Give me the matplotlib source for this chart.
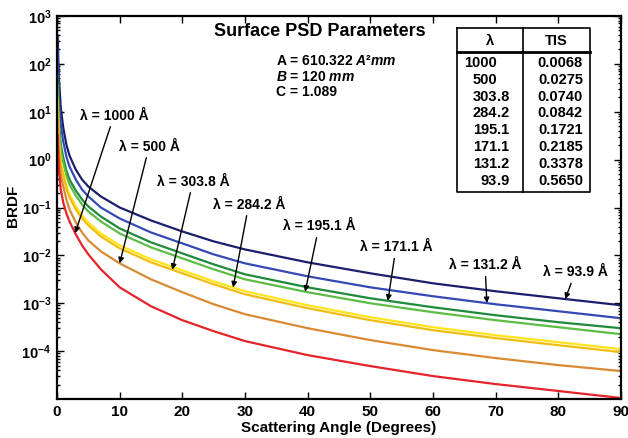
import numpy as np
import matplotlib
matplotlib.use("Agg")
import matplotlib.pyplot as plt
from matplotlib.ticker import LogLocator, NullFormatter, FixedLocator

plt.rcParams['font.family'] = ['Liberation Sans', 'DejaVu Sans']
plt.rcParams['font.weight'] = 'bold'
plt.rcParams['mathtext.fontset'] = 'custom'
plt.rcParams['mathtext.rm'] = 'Liberation Sans:bold'
plt.rcParams['mathtext.it'] = 'Liberation Sans:italic:bold'
plt.rcParams['mathtext.bf'] = 'Liberation Sans:bold'

# ---------------- data ----------------
angle = [0.1, 0.3, 0.6, 1, 1.5, 2, 3, 4, 5, 7, 10, 15, 20, 25, 30, 40, 50, 60, 70, 80, 90]

brdf_93_9 = [402, 51.1, 12.1, 4.64, 2.05, 1.21, 0.619, 0.383, 0.274, 0.170, 0.100,
             0.0536, 0.0316, 0.0196, 0.0133, 0.00715, 0.00422, 0.00261, 0.00178, 0.00127, 0.000909]
brdf_131_2 = [196, 17.8, 5.62, 2.37, 1.155, 0.715, 0.383, 0.237, 0.170, 0.100, 0.0590,
              0.0301, 0.0178, 0.0105, 0.00681, 0.00365, 0.00215, 0.00140, 0.000953, 0.000681, 0.000487]
brdf_171_1 = [59.0, 6.19, 2.05, 1.10, 0.590, 0.383, 0.226, 0.147, 0.105, 0.0649, 0.0365,
              0.0187, 0.0110, 0.00649, 0.00402, 0.00215, 0.00127, 0.000825, 0.000562, 0.000402, 0.000301]
brdf_195_1 = [36.5, 4.22, 1.54, 0.866, 0.464, 0.301, 0.178, 0.1155, 0.0825, 0.0511, 0.0287,
              0.0147, 0.00866, 0.00511, 0.00316, 0.00170, 0.00100, 0.000649, 0.000443, 0.000316, 0.000226]
brdf_284_2 = [17.8, 2.37, 0.909, 0.536, 0.287, 0.187, 0.105, 0.0681, 0.0487, 0.0287, 0.0162,
              0.00825, 0.00487, 0.00287, 0.00178, 0.000909, 0.000511, 0.000316, 0.000215, 0.000154, 0.000110]
brdf_303_8 = [15.4, 2.05, 0.787, 0.464, 0.249, 0.162, 0.0909, 0.0590, 0.0422, 0.0249, 0.0140,
              0.00715, 0.00422, 0.00249, 0.00154, 0.000787, 0.000443, 0.000274, 0.000187, 0.000133, 9.53e-5]
brdf_500 = [7.50, 1.27, 0.487, 0.274, 0.147, 0.0909, 0.0487, 0.0301, 0.0205, 0.0121, 0.00681,
            0.00316, 0.00170, 0.000953, 0.000590, 0.000301, 0.000170, 0.000105, 7.15e-5, 5.11e-5, 3.83e-5]
brdf_1000 = [3.32, 0.619, 0.237, 0.127, 0.075, 0.0511, 0.0274, 0.0162, 0.0105, 0.00511, 0.00215,
             0.000866, 0.000443, 0.000261, 0.000162, 8.25e-5, 4.87e-5, 3.01e-5, 2.05e-5, 1.47e-5, 1.05e-5]

wavelengths = ['93.9', '131.2', '171.1', '195.1', '284.2', '303.8', '500', '1000']
curves = [brdf_93_9, brdf_131_2, brdf_171_1, brdf_195_1, brdf_284_2, brdf_303_8, brdf_500, brdf_1000]
colors = ['#1b1f6b', '#3549b5', '#1f8a3c', '#5cbc45', '#ffe419', '#f2bd12', '#d98a32', '#e5232b']

# table (in the order shown)
table_lambda = ['1000', '500', '303.8', '284.2', '195.1', '171.1', '131.2', '93.9']
table_tis = ['0.0068', '0.0275', '0.0740', '0.0842', '0.1721', '0.2185', '0.3378', '0.5650']

# arrow labels: tip angle on the curve, text position (deg, BRDF)
label_tip = [2.9, 10.0, 18.4, 28.1, 39.6, 52.8, 68.6, 81.1]
label_tx = [9.1, 14.7, 21.7, 30.6, 41.8, 54.1, 68.3, 82.7]
label_ty = [8.3, 1.87, 0.348, 0.1155, 0.0402, 0.0147, 0.0062, 0.00443]
label_curve = ['1000', '500', '303.8', '284.2', '195.1', '171.1', '131.2', '93.9']

# ---------------- figure ----------------
W, H = 628, 438
fig = plt.figure(figsize=(W / 100, H / 100), dpi=100)
L, R, T, B = 57, 621, 16, 399
ax = fig.add_axes([L / W, 1 - B / H, (R - L) / W, (B - T) / H])

for lam, y, c in zip(wavelengths, curves, colors):
    ax.plot(angle, y, color=c, lw=1.6, solid_capstyle='round', solid_joinstyle='round')

ax.set_yscale('log')
ax.set_xlim(0, 90)
ax.set_ylim(1e-5, 1e3)
ax.set_xticks(range(0, 91, 10))
ax.set_xticklabels([str(v) for v in range(0, 91, 10)], fontsize=11, fontweight='bold')
yt = [10.0 ** k for k in range(-4, 4)]
ax.yaxis.set_major_locator(FixedLocator(yt))
ax.set_yticklabels([r'$10^{%d}$' % k for k in range(-4, 4)], fontsize=10.5)
ax.yaxis.set_minor_locator(LogLocator(base=10, subs=np.arange(2, 10), numticks=20))
ax.yaxis.set_minor_formatter(NullFormatter())
ax.tick_params(which='both', direction='in', top=True, right=True, width=1)
ax.tick_params(which='major', length=5, pad=4)
ax.tick_params(which='minor', length=2.5)
for s in ax.spines.values():
    s.set_linewidth(1.6)

ax.set_xlabel('Scattering Angle (Degrees)', fontsize=11, fontweight='bold', labelpad=2)
fig.text(13 / W, 1 - 206 / H, 'BRDF', rotation=90, ha='center', va='center',
         fontsize=11, fontweight='bold')

# title and parameters
fig.text(320 / W, 1 - 32 / H, 'Surface PSD Parameters', ha='center', va='center',
         fontsize=13, fontweight='bold')
fig.text(276 / W, 1 - 61 / H, r'A = 610.322 $\mathit{A}$²$\mathit{mm}$', ha='left', va='center', fontsize=10)
fig.text(276 / W, 1 - 77 / H, r'$\mathit{B}$ = 120 $\mathit{mm}$', ha='left', va='center', fontsize=10)
fig.text(276 / W, 1 - 92 / H, 'C = 1.089', ha='left', va='center', fontsize=10)

# table
def fx(px):
    return px / W

def fy(py):
    return 1 - py / H

tx0, tx1, txm = 457, 590, 523
ty0, ty1, tyh = 28, 192, 52
lk = dict(color='k', lw=1.2, transform=fig.transFigure)
fig.add_artist(plt.Line2D([fx(tx0), fx(tx1), fx(tx1), fx(tx0), fx(tx0)],
                          [fy(ty0), fy(ty0), fy(ty1), fy(ty1), fy(ty0)], **lk))
fig.add_artist(plt.Line2D([fx(txm), fx(txm)], [fy(ty0), fy(ty1)], **lk))
fig.add_artist(plt.Line2D([fx(tx0), fx(tx1)], [fy(tyh), fy(tyh)], color='k', lw=2,
                          transform=fig.transFigure))
fig.text(fx(490), fy(41), 'λ', ha='center', va='center', fontsize=10.5)
fig.text(fx(556), fy(41), 'TIS', ha='center', va='center', fontsize=10.5)
x_dec = 497
for i, (lam, tis) in enumerate(zip(table_lambda, table_tis)):
    yy = fy(63 + i * 16.8)
    ip, _, fp = lam.partition('.')
    fig.text(fx(x_dec), yy, ip, ha='right', va='center', fontsize=10.5)
    if fp:
        fig.text(fx(x_dec), yy, '.' + fp, ha='left', va='center', fontsize=10.5)
    fig.text(fx(583), yy, tis, ha='right', va='center', fontsize=10.5)

# arrow labels
for lam, tip, tx, ty in zip(label_curve, label_tip, label_tx, label_ty):
    y = curves[wavelengths.index(lam)]
    tip_y = 10 ** np.interp(tip, angle, np.log10(y))
    ax.annotate('λ = %s Å' % lam, xy=(tip, tip_y), xytext=(tx, ty),
                ha='center', va='center', fontsize=10, fontweight='bold',
                arrowprops=dict(arrowstyle='-|>', color='k', lw=1,
                                mutation_scale=8, shrinkA=1, shrinkB=0))

fig.savefig('out.png', dpi=100)
